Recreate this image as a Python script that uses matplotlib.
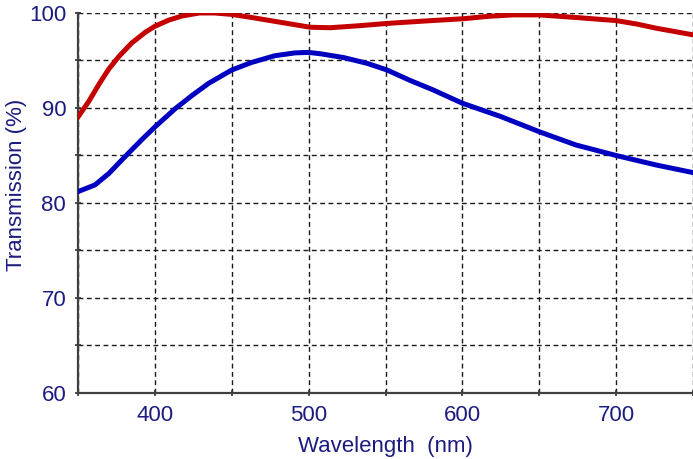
import numpy as np
import matplotlib.pyplot as plt
from matplotlib.ticker import MultipleLocator

plt.rcParams['font.family'] = ['Liberation Sans', 'DejaVu Sans']

# red curve (upper)
red_x = [350, 357, 364, 370, 377, 385, 394, 400, 409, 418, 429, 439, 450, 462, 475,
         488, 501, 514, 532, 551, 575, 601, 617, 633, 650, 676, 700, 713, 726, 738, 750]
red_y = [89.05, 90.7, 92.6, 94.1, 95.5, 96.85, 98.0, 98.6, 99.25, 99.7, 100.0, 100.0, 99.85, 99.55, 99.2,
         98.85, 98.5, 98.45, 98.65, 98.9, 99.15, 99.4, 99.65, 99.8, 99.8, 99.5, 99.2, 98.85, 98.4, 98.05, 97.7]
# blue curve (lower)
blue_x = [350, 361, 370, 381, 392, 400, 413, 424, 435, 450, 463, 478, 491, 500, 508,
          523, 538, 551, 566, 581, 600, 625, 650, 674, 700, 726, 750]
blue_y = [81.2, 81.9, 83.1, 84.95, 86.75, 88.0, 89.9, 91.3, 92.6, 94.0, 94.8, 95.5, 95.8, 95.85, 95.7,
          95.3, 94.7, 94.0, 92.9, 91.9, 90.5, 89.1, 87.5, 86.1, 85.0, 84.0, 83.2]

navy = '#1c1c80'

fig = plt.figure(figsize=(6.93, 4.59), dpi=100)
ax = fig.add_axes([0.1126, 0.1438, 0.8874, 0.8279])

ax.plot(red_x, red_y, color='#c40000', lw=3.6, solid_joinstyle='round', zorder=3)
ax.plot(blue_x, blue_y, color='#0000c0', lw=3.6, solid_joinstyle='round', zorder=3)

ax.set_xlim(350, 750)
ax.set_ylim(60, 100)
ax.xaxis.set_major_locator(MultipleLocator(100))
ax.xaxis.set_minor_locator(MultipleLocator(50))
ax.yaxis.set_major_locator(MultipleLocator(10))
ax.yaxis.set_minor_locator(MultipleLocator(5))
ax.set_xticks([400, 500, 600, 700])

ax.grid(which='both', color='#1a1a1a', linestyle=(0, (3.5, 2.5)), linewidth=1.0, zorder=1)
ax.set_axisbelow(True)

for s in ['top', 'right']:
    ax.spines[s].set_visible(False)
for s in ['left', 'bottom']:
    ax.spines[s].set_color('#404040')
    ax.spines[s].set_linewidth(1.6)

ax.tick_params(which='both', direction='inout', length=5, width=1.2, color='#303030',
               labelcolor=navy, labelsize=16, pad=6)

ax.set_xlabel('Wavelength  (nm)', color=navy, fontsize=16, labelpad=7)
ax.set_ylabel('Transmission (%)', color=navy, fontsize=16)
ax.yaxis.set_label_coords(-0.083, 0.547)

fig.savefig('out.png', dpi=100)
